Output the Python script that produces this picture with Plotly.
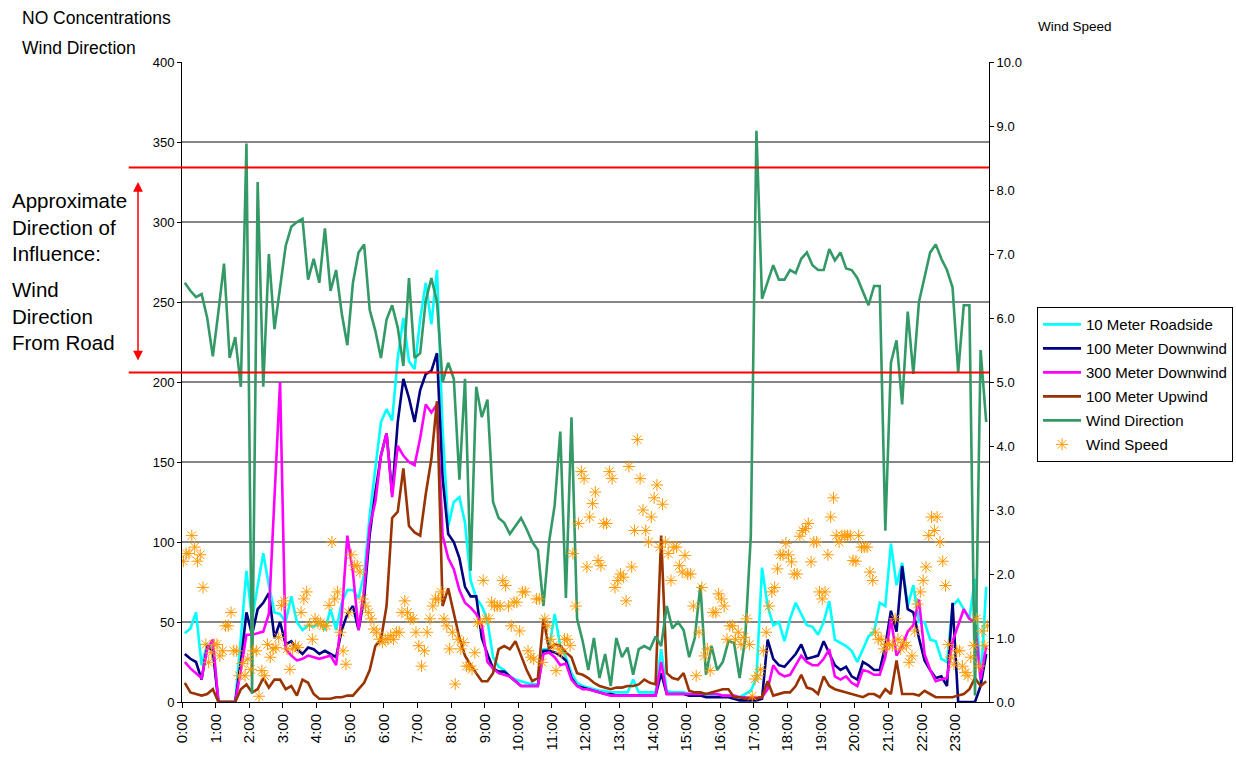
import plotly.graph_objects as go

# NO concentrations and wind direction, 10-minute samples from 0:00 to 23:50
roadside_10m = [
    43, 46, 56, 23, 36, 35, 0, 0, 0, 0, 40, 82,
    52, 73, 93, 73, 56, 55, 50, 66, 50, 45, 48, 47,
    50, 45, 58, 45, 62, 70, 70, 65, 80, 117, 148, 175,
    183, 176, 215, 240, 213, 208, 239, 262, 236, 270, 170, 110,
    125, 128, 112, 76, 65, 60, 51, 28, 22, 20, 16, 14,
    13, 12, 11, 11, 33, 33, 55, 35, 28, 18, 12, 10,
    9, 8, 7, 7, 6, 6, 6, 6, 14, 6, 6, 6,
    6, 33, 7, 6, 6, 6, 5, 5, 5, 4, 4, 4,
    4, 4, 3, 3, 5, 7, 15, 84, 60, 48, 50, 38,
    52, 62, 55, 48, 47, 42, 50, 63, 39, 37, 35, 32,
    25, 33, 41, 44, 62, 60, 99, 73, 87, 60, 73, 50,
    50, 39, 38, 27, 25, 60, 64, 58, 52, 77, 10, 72,
]
downwind_100m = [
    30, 27, 25, 14, 35, 32, 0, 0, 0, 0, 25, 56,
    42, 58, 62, 68, 40, 50, 36, 38, 33, 30, 34, 33,
    30, 32, 30, 28, 45, 55, 60, 45, 65, 105, 131, 154,
    168, 130, 175, 202, 190, 175, 195, 205, 207, 218, 140, 105,
    100, 90, 72, 66, 66, 40, 30, 21, 19, 19, 16, 13,
    10, 10, 10, 10, 32, 32, 31, 29, 26, 15, 10, 9,
    8, 7, 6, 5, 5, 4, 4, 4, 4, 4, 4, 4,
    4, 18, 5, 5, 5, 5, 4, 4, 4, 3, 3, 3,
    3, 3, 2, 1, 1, 1, 1, 2, 39, 27, 23, 22,
    26, 30, 36, 27, 28, 29, 38, 30, 23, 20, 22, 16,
    14, 25, 23, 20, 20, 35, 57, 44, 85, 58, 56, 40,
    26, 20, 15, 16, 10, 62, 0, 0, 0, 0, 10, 30,
]
downwind_300m = [
    25, 21, 18, 15, 33, 39, 0, 0, 0, 0, 20, 42,
    42, 43, 44, 55, 125, 200, 33, 29, 26, 27, 29, 28,
    27, 28, 29, 23, 54, 104, 81, 45, 71, 110, 125, 154,
    168, 128, 160, 154, 150, 148, 165, 186, 181, 186, 104, 90,
    83, 70, 62, 59, 55, 48, 25, 21, 18, 17, 16, 13,
    10, 10, 10, 10, 30, 31, 28, 23, 24, 14, 10, 8,
    8, 7, 6, 5, 4, 4, 4, 4, 4, 4, 4, 4,
    4, 25, 5, 5, 5, 5, 5, 5, 5, 5, 5, 5,
    4, 4, 4, 3, 3, 3, 3, 3, 8, 23, 18, 16,
    17, 23, 29, 25, 23, 23, 27, 33, 16, 14, 16, 12,
    10, 20, 19, 17, 17, 28, 52, 29, 35, 44, 48, 64,
    30, 20, 13, 14, 15, 38, 48, 58, 52, 50, 14, 35,
]
upwind_100m = [
    12, 6, 5, 4, 5, 8, 0, 0, 0, 0, 8, 11,
    6, 8, 15, 9, 14, 14, 8, 10, 4, 14, 12, 5,
    2, 2, 2, 3, 3, 4, 4, 8, 12, 20, 35, 39,
    60, 115, 119, 146, 110, 106, 104, 130, 152, 188, 60, 71,
    55, 40, 29, 23, 18, 13, 13, 18, 33, 35, 33, 38,
    29, 20, 13, 15, 52, 33, 36, 35, 31, 28, 18, 17,
    15, 12, 10, 9, 8, 9, 9, 10, 10, 11, 14, 12,
    11, 104, 18, 15, 14, 18, 7, 6, 6, 5, 6, 7,
    8, 8, 3, 3, 2, 2, 2, 3, 13, 4, 5, 6,
    6, 10, 17, 9, 8, 5, 16, 10, 8, 7, 6, 5,
    4, 3, 5, 5, 3, 8, 5, 26, 5, 5, 5, 4,
    7, 5, 3, 3, 3, 3, 4, 5, 8, 15, 10, 13,
]
wind_direction = [
    262, 257, 253, 255, 240, 216, 244, 274, 215, 228, 197, 349,
    5, 325, 197, 280, 233, 258, 285, 297, 300, 302, 264, 277,
    262, 296, 257, 270, 243, 223, 262, 281, 286, 245, 232, 215,
    239, 248, 234, 210, 265, 215, 218, 251, 265, 250, 200, 212,
    202, 139, 202, 82, 197, 178, 189, 125, 115, 112, 105, 110,
    115, 108, 100, 95, 60, 100, 123, 169, 65, 178, 52, 38,
    20, 40, 15, 30, 10, 40, 28, 34, 17, 33, 35, 33,
    41, 35, 60, 46, 50, 45, 28, 40, 73, 17, 35, 20,
    25, 38, 37, 15, 40, 104, 357, 252, 262, 273, 264, 264,
    270, 268, 277, 281, 273, 270, 270, 283, 276, 281, 271, 270,
    265, 257, 248, 260, 260, 107, 212, 226, 186, 244, 205, 250,
    265, 281, 286, 277, 270, 259, 206, 248, 248, 4, 220, 175,
]

# Wind speed, 5-minute samples from 0:00 to 23:55
wind_speed = [
    2.2, 2.32, 2.32, 2.6, 2.42, 2.2, 2.3, 1.79, 0.9, 0.62, 0.77, 0.9,
    0.9, 0.72, 0.8, 1.19, 1.19, 1.4, 0.8, 0.8, 0.41, 0.6, 0.41, 0.67,
    0.51, 0.8, 0.8, 0.09, 0.49, 0.41, 0.9, 0.7, 0.83, 0.85, 1.01, 1.51,
    1.58, 0.83, 0.51, 0.83, 0.88, 0.85, 1.4, 1.61, 1.72, 1.2, 0.98, 1.3,
    1.24, 1.24, 1.19, 1.19, 1.51, 2.5, 1.61, 1.72, 1.09, 0.8, 0.59, 1.4,
    2.3, 2.13, 2.13, 2.03, 1.61, 1.5, 1.4, 1.3, 1.14, 1.09, 0.98, 0.93,
    0.98, 0.98, 1.04, 0.98, 1.09, 1.09, 1.4, 1.58, 1.4, 1.3, 1.3, 1.09,
    0.88, 0.56, 0.8, 1.09, 1.3, 1.5, 1.61, 1.61, 1.72, 1.3, 1.19, 0.83,
    1.09, 0.28, 0.98, 0.83, 0.93, 0.56, 0.56, 0.51, 0.77, 1.24, 1.24, 1.9,
    1.3, 1.3, 1.56, 1.5, 1.5, 1.5, 1.9, 1.82, 1.5, 1.19, 1.56, 1.56,
    1.11, 1.72, 1.72, 0.8, 0.7, 0.67, 1.61, 1.61, 0.62, 1.3, 1.19, 0.98,
    0.88, 0.49, 0.83, 0.77, 0.98, 0.98, 0.88, 2.32, 1.5, 2.79, 3.6, 3.49,
    2.11, 2.89, 3.1, 3.28, 2.21, 2.13, 2.79, 2.79, 3.6, 3.49, 1.79, 1.9,
    2.0, 1.95, 1.58, 3.68, 2.11, 2.68, 4.1, 3.49, 3.0, 2.68, 2.5, 2.89,
    3.19, 3.39, 2.42, 3.09, 2.5, 2.32, 1.9, 2.42, 2.42, 2.13, 2.03, 2.29,
    2.0, 2.0, 1.5, 0.41, 1.09, 1.79, 0.72, 0.83, 0.49, 1.4, 1.4, 1.69,
    1.61, 1.5, 0.98, 1.19, 1.19, 0.98, 1.09, 0.9, 1.01, 1.3, 0.9, 0.09,
    0.36, 0.41, 0.51, 0.8, 1.09, 1.5, 1.72, 1.79, 2.08, 2.3, 2.3, 2.48,
    2.3, 2.19, 2.0, 2.0, 2.59, 2.68, 2.71, 2.79, 2.19, 2.5, 2.5, 1.72,
    1.61, 1.72, 2.3, 2.89, 3.19, 2.6, 2.5, 2.6, 2.6, 2.6, 2.6, 2.21,
    2.2, 2.6, 2.42, 2.42, 2.42, 2.03, 1.9, 1.09, 0.98, 0.98, 0.83, 0.9,
    0.9, 0.88, 1.3, 0.98, 0.83, 0.93, 0.88, 0.62, 0.72, 1.11, 1.53, 1.72,
    1.9, 2.11, 2.6, 2.89, 2.68, 2.89, 2.5, 2.2, 1.82, 0.9, 0.7, 0.59,
    0.8, 0.8, 0.56, 0.46, 0.41, 0.7, 0.88, 1.3, 0.56, 1.11, 0.88, 1.19,
]

# Wind directions (degrees) bounding the road-influence sector
influence_band = [206, 334]

hour_ticks = list(range(24))
hour_labels = [f"{h}:00" for h in hour_ticks]

# each sample is drawn at the centre of its time slot
t10 = [(k + 0.5) / 6 for k in range(len(roadside_10m))]
t5 = [(i + 0.5) / 12 for i in range(len(wind_speed))]

FONT = "Liberation Sans, Arial, sans-serif"
LW = 2.6

fig = go.Figure()
series = [
    ("10 Meter Roadside", roadside_10m, "#00FFFF"),
    ("100 Meter Downwind", downwind_100m, "#000080"),
    ("300 Meter Downwind", downwind_300m, "#FF00FF"),
    ("100 Meter Upwind", upwind_100m, "#993300"),
    ("Wind Direction", wind_direction, "#339966"),
]
for name, vals, color in series:
    fig.add_trace(go.Scatter(
        x=t10, y=vals, name=name, mode="lines",
        line=dict(color=color, width=LW), legendgroup=name,
    ))

fig.add_trace(go.Scatter(
    x=t5, y=wind_speed, name="Wind Speed", mode="markers", yaxis="y2",
    marker=dict(symbol="asterisk-open", size=10, color="#FF9900",
                line=dict(color="#FF9900", width=1)),
    legendgroup="Wind Speed",
))

# Road-influence sector bounds, drawn across the chart
for lvl in influence_band:
    fig.add_shape(type="line", xref="paper", yref="y",
                  x0=-0.066, x1=1.0, y0=lvl, y1=lvl,
                  line=dict(color="#FF0000", width=2), layer="above")

# Double-headed arrow spanning the influence sector
fig.add_annotation(
    xref="paper", yref="y", x=-0.0545, y=325,
    axref="pixel", ayref="y", ax=0, ay=212.5,
    text="", showarrow=True, arrowside="end+start",
    arrowhead=2, startarrowhead=2, arrowsize=1.3, startarrowsize=1.3,
    arrowwidth=1.5, arrowcolor="#FF0000", standoff=0, startstandoff=0,
)

fig.add_annotation(
    xref="paper", yref="y", x=-0.2132, y=297, xanchor="left", yanchor="middle",
    text="Approximate<br>Direction of<br>Influence:", showarrow=False, align="left",
    font=dict(size=20.5, family=FONT, color="black"),
)
fig.add_annotation(
    xref="paper", yref="y", x=-0.2132, y=241, xanchor="left", yanchor="middle",
    text="Wind<br>Direction<br>From Road", showarrow=False, align="left",
    font=dict(size=20.5, family=FONT, color="black"),
)

# Axis titles placed as free text above the axes
fig.add_annotation(xref="paper", yref="paper", x=-0.2008, y=1.0688,
                   xanchor="left", yanchor="middle", text="NO Concentrations",
                   showarrow=False, font=dict(size=17.5, family=FONT, color="black"))
fig.add_annotation(xref="paper", yref="paper", x=-0.2008, y=1.0219,
                   xanchor="left", yanchor="middle", text="Wind Direction",
                   showarrow=False, font=dict(size=17.5, family=FONT, color="black"))
fig.add_annotation(xref="paper", yref="paper", x=1.0582, y=1.0547,
                   xanchor="left", yanchor="middle", text="Wind Speed",
                   showarrow=False, font=dict(size=13.5, family=FONT, color="black"))

fig.update_layout(
    width=1236, height=761,
    margin=dict(l=182, r=247, t=62, b=59, autoexpand=False),
    paper_bgcolor="white", plot_bgcolor="white",
    font=dict(family=FONT, size=13, color="black"),
    showlegend=True,
    legend=dict(
        x=1.0595, y=0.617, xanchor="left", yanchor="top",
        bordercolor="black", borderwidth=1, bgcolor="white",
        font=dict(size=15, family=FONT, color="black"),
        tracegroupgap=1.5, itemwidth=38,
    ),
    xaxis=dict(
        range=[0, 24], tickmode="array", tickvals=hour_ticks, ticktext=hour_labels,
        tickangle=-90, ticks="outside", ticklen=5, tickcolor="black",
        showline=True, linecolor="black", linewidth=1,
        showgrid=False, zeroline=False, tickfont=dict(size=15),
    ),
    yaxis=dict(
        range=[0, 400], dtick=50, ticks="outside", ticklen=4, tickcolor="black",
        showline=True, linecolor="black", linewidth=1,
        showgrid=True, gridcolor="#858585", gridwidth=1.5, zeroline=False,
    ),
    yaxis2=dict(
        range=[0, 10], dtick=1, tickformat=".1f", overlaying="y", side="right",
        ticks="outside", ticklen=4, tickcolor="black",
        showline=True, linecolor="black", linewidth=1,
        showgrid=False, zeroline=False,
    ),
)

fig.write_html("out.html")
